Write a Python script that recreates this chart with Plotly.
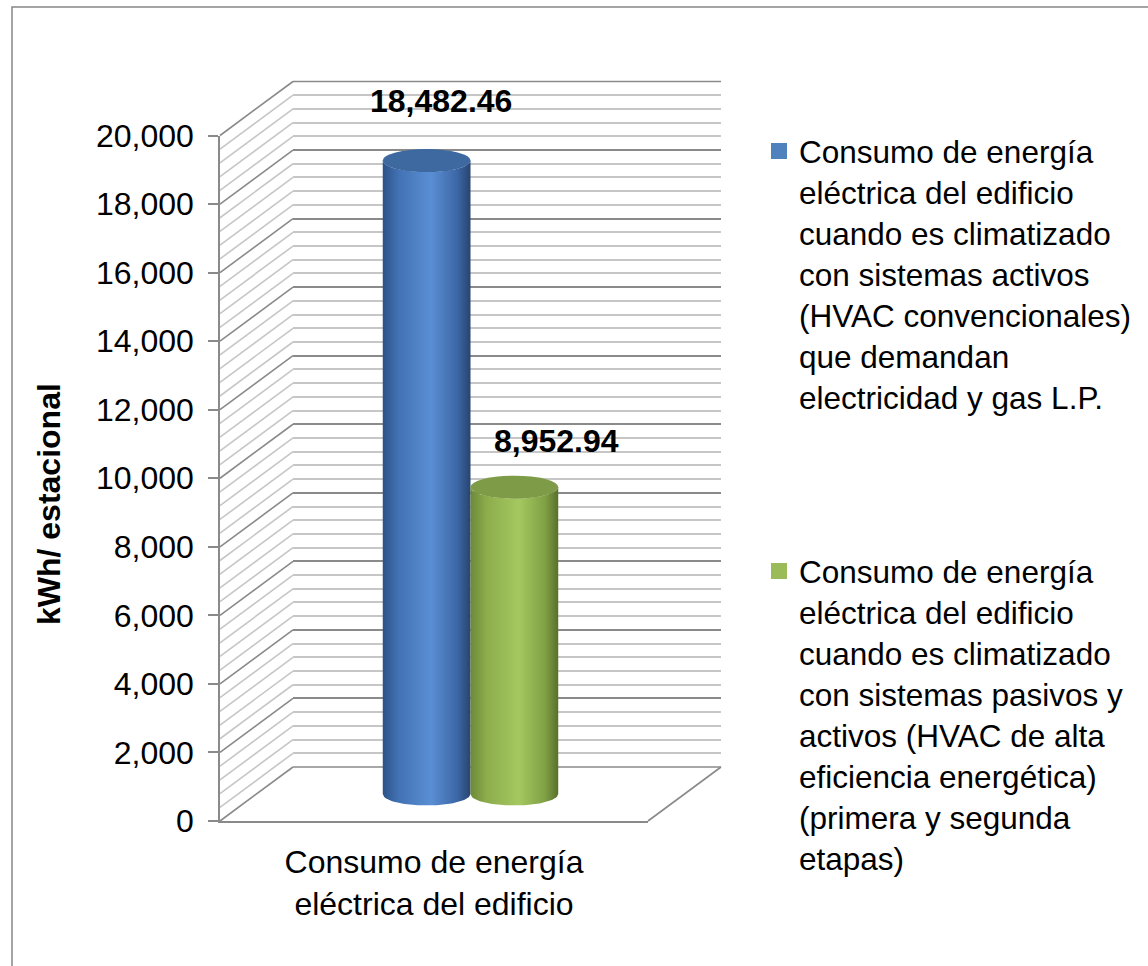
import plotly.graph_objects as go

# ---------------- data ----------------
category = ["Consumo de energía eléctrica del edificio"]
category_label = ["Consumo de energía<br>eléctrica del edificio"]
series_names = [
    "Consumo de energía<br>eléctrica del edificio<br>cuando es climatizado<br>con sistemas activos<br>(HVAC convencionales)<br>que demandan<br>electricidad y gas L.P.",
    "Consumo de energía<br>eléctrica del edificio<br>cuando es climatizado<br>con sistemas pasivos y<br>activos (HVAC de alta<br>eficiencia energética)<br>(primera y segunda<br>etapas)",
]
values = [18482.46, 8952.94]
y_ticks = list(range(0, 20001, 2000))
y_title = "kWh/ estacional"

# ---------------- style ----------------
W, H = 1148, 966
FONT = "Arial, 'Liberation Sans', sans-serif"
legend_colors = ["#4f81bd", "#9bbb59"]
top_colors = ["#3d69a0", "#7e9b47"]
body_scales = [
    [[0.0, "rgb(44,82,135)"], [0.18, "rgb(66,114,180)"], [0.55, "rgb(90,142,212)"],
     [0.85, "rgb(60,103,165)"], [1.0, "rgb(40,68,112)"]],
    [[0.0, "rgb(108,137,58)"], [0.18, "rgb(140,172,76)"], [0.55, "rgb(165,200,96)"],
     [0.85, "rgb(128,160,68)"], [1.0, "rgb(88,112,44)"]],
]
cyl_center = [-0.1025, 0.1025]
cyl_width = 0.205
label_shift = [(14, 60), (42, 46)]
ARC_PTS = 60

# pixel geometry of the pseudo-3D box
FX0, FX1 = 220, 648          # front plane x extent (px)
FY0, FY1 = 821, 135.5        # front plane y pixel of 0 and of 20000
DX, DY = 73, 54              # depth offset of back wall
YMAX = 20000
k = (FY0 - FY1) / YMAX       # px per unit
ELL_PX = 11.5                # half height of cylinder ellipse (px)

def px(x):
    return x / W

def py(y):
    return 1 - y / H

def yfront(v):
    return FY0 - v * k

MAJOR = "#8a8a8a"
MINOR = "#c6c6c6"

fig = go.Figure()

# dummy trace so that the back-wall subplot is drawn
fig.add_trace(go.Scatter(x=[None], y=[None], xaxis="x", yaxis="y",
                         showlegend=False, hoverinfo="skip", mode="markers"))

# ---------------- cylinders (mid depth plane, axes x2/y2) ----------------
ell_units = ELL_PX / k
for s, val in enumerate(values):
    c = cyl_center[s]
    hw = cyl_width / 2
    xs, ys = [], []
    ts = [-1 + 2 * i / ARC_PTS for i in range(ARC_PTS + 1)]
    for t in ts:  # base arc, left -> right
        xs.append(c + t * hw)
        ys.append(-ell_units * max(0.0, 1 - t * t) ** 0.5)
    for t in reversed(ts):  # top front arc, right -> left
        xs.append(c + t * hw)
        ys.append(val - ell_units * max(0.0, 1 - t * t) ** 0.5)
    fig.add_trace(go.Scatter(
        x=xs, y=ys, mode="lines", fill="toself",
        line=dict(width=0, color="rgba(0,0,0,0)"),
        fillgradient=dict(type="horizontal", colorscale=body_scales[s]),
        xaxis="x2", yaxis="y2", showlegend=False, hoverinfo="skip",
    ))
    fig.add_shape(type="circle", xref="x2", yref="y2",
                  x0=c - hw, x1=c + hw,
                  ysizemode="pixel", yanchor=val, y0=-ELL_PX, y1=ELL_PX,
                  fillcolor=top_colors[s], line=dict(width=0), layer="above")

# legend entries (front axes)
for s in range(2):
    fig.add_trace(go.Scatter(
        x=category, y=[None], name=series_names[s], mode="markers",
        marker=dict(color=legend_colors[s], symbol="square", size=16),
        xaxis="x3", yaxis="y3", showlegend=True,
        legend="legend" if s == 0 else "legend2",
    ))

# data labels
for s, val in enumerate(values):
    fig.add_annotation(
        x=cyl_center[s], y=val, xref="x2", yref="y2",
        text="<b>{:,.2f}</b>".format(val), showarrow=False,
        xshift=label_shift[s][0], yshift=label_shift[s][1],
        font=dict(size=32, color="black", family=FONT),
    )

# y axis title
fig.add_annotation(
    x=px(49), y=py(504), xref="paper", yref="paper",
    xanchor="center", yanchor="middle",
    text="<b>%s</b>" % y_title, textangle=-90, showarrow=False,
    font=dict(size=32, color="black", family=FONT),
)

# ---------------- decorative 3D walls ----------------
shapes = []
for v in range(0, YMAX + 1, 400):
    col = MAJOR if v % 2000 == 0 else MINOR
    yf = yfront(v)
    shapes.append(dict(type="line", xref="paper", yref="paper",
                       x0=px(FX0), y0=py(yf), x1=px(FX0 + DX), y1=py(yf - DY),
                       line=dict(color=col, width=1.6), layer="below"))
for v in (0, YMAX):
    yb = yfront(v) - DY
    shapes.append(dict(type="line", xref="paper", yref="paper",
                       x0=px(FX0 + DX), y0=py(yb), x1=px(FX1 + DX), y1=py(yb),
                       line=dict(color=MAJOR, width=1.6), layer="below"))
shapes.append(dict(type="line", xref="paper", yref="paper",
                   x0=px(FX1), y0=py(FY0), x1=px(FX1 + DX), y1=py(FY0 - DY),
                   line=dict(color=MAJOR, width=1.6), layer="below"))
shapes.append(dict(type="rect", xref="paper", yref="paper",
                   x0=px(12), y0=-0.05, x1=1.05, y1=py(7),
                   line=dict(color="#868686", width=1.5), fillcolor="rgba(0,0,0,0)", layer="below"))
for sh in shapes:
    fig.add_shape(**sh)

MID_LO, MID_HI = -2000, 21000
mid_y0 = FY0 - DY / 2
mid_dom = [py(mid_y0 - MID_LO * k), py(mid_y0 - MID_HI * k)]

fig.update_layout(
    width=W, height=H,
    margin=dict(l=0, r=0, t=0, b=0, autoexpand=False),
    paper_bgcolor="white", plot_bgcolor="rgba(0,0,0,0)",
    font=dict(family=FONT, color="black"),
    # back wall
    xaxis=dict(domain=[px(FX0 + DX), px(FX1 + DX)], visible=False, range=[0, 1],
               automargin=False),
    yaxis=dict(domain=[py(FY0 - DY), py(FY1 - DY)], range=[0, YMAX], automargin=False,
               showticklabels=False, ticks="", zeroline=False, showline=False,
               showgrid=True, dtick=2000, gridcolor=MAJOR, gridwidth=1.6,
               minor=dict(dtick=400, showgrid=True, gridcolor=MINOR, gridwidth=1.6)),
    # cylinder plane
    xaxis2=dict(domain=[px(FX0 + DX / 2), px(FX1 + DX / 2)], automargin=False,
                range=[-0.5, 0.5], visible=False, anchor="y2"),
    yaxis2=dict(domain=mid_dom, range=[MID_LO, MID_HI], visible=False, anchor="x2",
                automargin=False),
    # front axes
    xaxis3=dict(domain=[px(FX0), px(FX1)], type="category", range=[-0.5, 0.5],
                anchor="y3", tickvals=category, ticktext=category_label,
                showline=True, linecolor=MAJOR, linewidth=1.6, ticks="",
                showgrid=False, tickfont=dict(size=32), ticklabelstandoff=12,
                automargin=False),
    yaxis3=dict(domain=[py(FY0), py(FY1)], range=[0, YMAX], anchor="x3",
                tickvals=y_ticks, tickformat=",d", ticks="outside", ticklen=10,
                tickcolor=MAJOR, tickwidth=1.6, showline=True, linecolor=MAJOR,
                linewidth=1.6, showgrid=False, zeroline=False, automargin=False,
                tickfont=dict(size=32), ticklabelstandoff=8),
    legend=dict(x=px(759), y=py(124), xanchor="left", yanchor="top",
                font=dict(size=31.5), valign="top", bgcolor="rgba(0,0,0,0)"),
    legend2=dict(x=px(759), y=py(544), xanchor="left", yanchor="top",
                 font=dict(size=31.5), valign="top", bgcolor="rgba(0,0,0,0)"),
)

fig.write_html("out.html", post_script="document.body.style.margin='0';",
               config={"displayModeBar": False})
